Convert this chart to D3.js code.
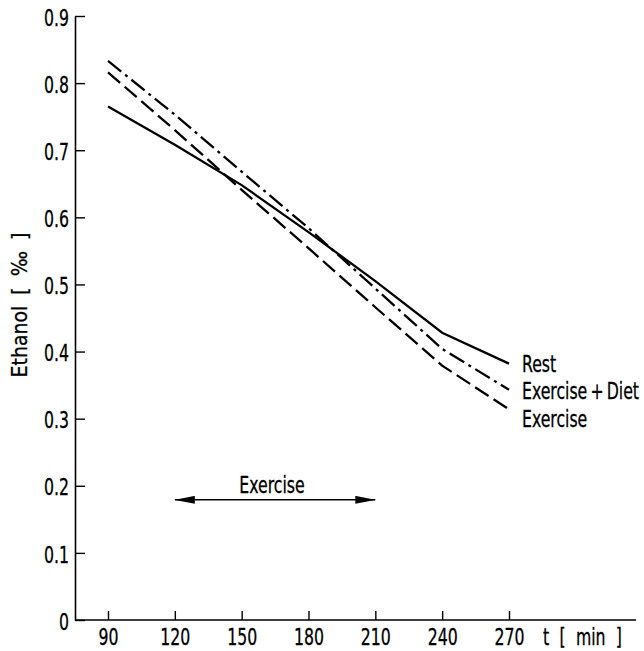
<!DOCTYPE html>
<html>
<head>
<meta charset="utf-8">
<script src="https://cdn.jsdelivr.net/npm/d3@7"></script>
<style>
  body { margin: 0; background: #fff; }
  svg text { font-family: "DejaVu Sans Condensed", "DejaVu Sans", sans-serif; fill: #000; stroke: #000; stroke-width: 0.3px; }
  .tick text { font-size: 23px; }
  .serieslabel { font-size: 23px; }
</style>
</head>
<body>
<svg width="644" height="651"></svg>
<script>
// data
var times = [90, 120, 150, 180, 210, 240, 270];
var rest = [0.765, 0.708, 0.648, 0.578, 0.505, 0.428, 0.382];
var exerciseDiet = [0.833, 0.753, 0.668, 0.584, 0.494, 0.404, 0.343];
var exercise = [0.816, 0.730, 0.641, 0.554, 0.466, 0.379, 0.314];
var seriesNames = ["Rest", "Exercise\u2009+\u2009Diet", "Exercise"];
var yTicks = [0, 0.1, 0.2, 0.3, 0.4, 0.5, 0.6, 0.7, 0.8, 0.9];
var exercisePeriod = [120, 210];
var exerciseLevel = 0.179;

var svg = d3.select("svg");

var x = d3.scaleLinear().domain([90, 270]).range([108, 509]);
var y = d3.scaleLinear().domain([0, 0.9]).range([620, 16]);

// squeeze text sideways, the figure uses a narrow DIN-like face
var narrow = function(sel) {
  sel.each(function() {
    var t = d3.select(this);
    var tx = +t.attr("x") || 0;
    var ty = +t.attr("y") || 0;
    t.attr("x", 0).attr("y", 0)
      .attr("transform", "translate(" + tx + "," + ty + ") scale(0.76,1)");
  });
};

// x axis: line runs past the last tick, ticks point inward
svg.append("line")
  .attr("x1", 75).attr("x2", 636)
  .attr("y1", y(0)).attr("y2", y(0))
  .attr("stroke", "#000").attr("stroke-width", 1.6)
;

var xAxis = svg.append("g")
  .attr("transform", "translate(0," + y(0) + ")")
  .call(d3.axisBottom(x).tickValues(times).tickSizeInner(-9).tickSizeOuter(0).tickPadding(25))
;
xAxis.select(".domain").remove();
xAxis.selectAll(".tick line").attr("stroke-width", 1.4);
xAxis.selectAll(".tick text").attr("dy", "0").call(narrow);

svg.append("text")
  .attr("x", 543)
  .attr("y", 645)
  .attr("class", "serieslabel")
  .style("word-spacing", "7px")
  .text("t [ min ]")
  .call(narrow)
;

var yAxis = svg.append("g")
  .attr("transform", "translate(75,0)")
  .call(d3.axisLeft(y)
    .tickValues(yTicks)
    .tickSizeInner(-10)
    .tickSizeOuter(0)
    .tickPadding(6)
    .tickFormat(function(d) { return d === 0 ? "0" : d3.format(".1f")(d); }))
;
yAxis.select(".domain").attr("stroke-width", 1.6);
yAxis.selectAll(".tick line").attr("stroke-width", 1.4);
yAxis.selectAll(".tick text").attr("dy", "0.4em").call(narrow);

svg.append("text")
  .attr("transform", "translate(27,305) rotate(-90)")
  .attr("text-anchor", "middle")
  .attr("class", "serieslabel")
  .style("font-size", "21px")
  .style("word-spacing", "5px")
  .text("Ethanol [ \u2030 ]")
;

// the three curves
var series = [
  { name: seriesNames[0], values: rest, dash: null, labelDy: 8 },
  { name: seriesNames[1], values: exerciseDiet, dash: "17,5,3,5", labelDy: 9 },
  { name: seriesNames[2], values: exercise, dash: "16,6", labelDy: 18 }
];

var line = d3.line()
  .x(function(d, i) { return x(times[i]); })
  .y(function(d) { return y(d); })
;

svg.append("g")
  .selectAll("path")
  .data(series)
  .enter()
  .append("path")
    .attr("d", function(d) { return line(d.values); })
    .attr("fill", "none")
    .attr("stroke", "#000")
    .attr("stroke-width", 2.3)
    .attr("stroke-dasharray", function(d) { return d.dash; })
;

svg.append("g")
  .selectAll("text")
  .data(series)
  .enter()
  .append("text")
    .attr("class", "serieslabel")
    .attr("x", x(270) + 13)
    .attr("y", function(d) { return y(d.values[d.values.length - 1]) + d.labelDy; })
    .text(function(d) { return d.name; })
    .call(narrow)
;

// exercise period arrow
var defs = svg.append("defs");
defs.append("marker")
  .attr("id", "head")
  .attr("viewBox", "0 0 20 8")
  .attr("refX", 20).attr("refY", 4)
  .attr("markerWidth", 20).attr("markerHeight", 8)
  .attr("markerUnits", "userSpaceOnUse")
  .attr("orient", "auto-start-reverse")
  .append("path")
    .attr("d", "M0,0 L20,4 L0,8 Z")
    .attr("fill", "#000")
;

svg.append("line")
  .attr("x1", x(exercisePeriod[0])).attr("x2", x(exercisePeriod[1]))
  .attr("y1", y(exerciseLevel)).attr("y2", y(exerciseLevel))
  .attr("stroke", "#000").attr("stroke-width", 1.5)
  .attr("marker-start", "url(#head)")
  .attr("marker-end", "url(#head)")
;

svg.append("text")
  .attr("class", "serieslabel")
  .attr("x", 272)
  .attr("y", y(exerciseLevel) - 7)
  .attr("text-anchor", "middle")
  .text("Exercise")
  .call(narrow)
;
</script>
</body>
</html>
